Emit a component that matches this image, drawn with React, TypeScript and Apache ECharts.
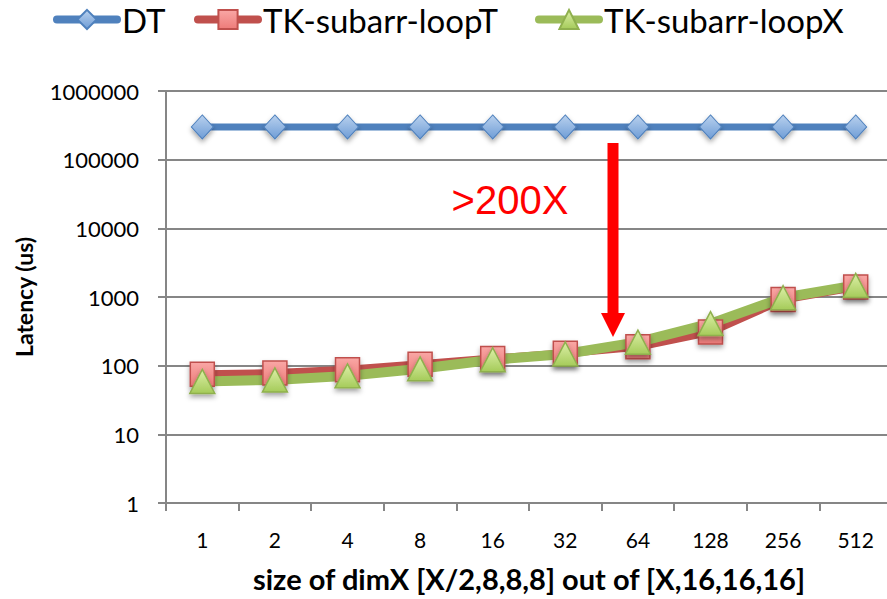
import React, { useEffect, useRef } from "react";
import * as echarts from "echarts";

const categories = ["1", "2", "4", "8", "16", "32", "64", "128", "256", "512"];
const dtValues = [300000, 300000, 300000, 300000, 300000, 300000, 300000, 300000, 300000, 300000];
const loopTValues = [75, 78, 87, 105, 127, 152, 188, 310, 920, 1400];
const loopXValues = [59, 62, 71, 90, 122, 148, 220, 410, 975, 1475];
const seriesNames = ["DT", "TK-subarr-loopT", "TK-subarr-loopX"];

const FONT = "Lato, 'Open Sans', sans-serif";

function grad(top: string, bottom: string) {
  return new echarts.graphic.LinearGradient(0, 0, 0, 1, [
    { offset: 0, color: top },
    { offset: 1, color: bottom },
  ]);
}

export default function App() {
  const ref = useRef<HTMLDivElement>(null);
  useEffect(() => {
    if (!ref.current) return;
    const chart = echarts.init(ref.current, undefined, { renderer: "svg" });
    const shadow = {
      shadowBlur: 5,
      shadowColor: "rgba(0,0,0,0.35)",
      shadowOffsetY: 3,
    };
    const legendLefts = [53, 194, 535];
    const legends = seriesNames.map((name, i) => ({
      left: legendLefts[i],
      top: 3,
      padding: 0,
      itemWidth: 60,
      itemHeight: 24,
      itemGap: 0,
      lineStyle: { width: 8, cap: "round" },
      textStyle: { fontFamily: FONT, fontSize: 33, color: "#000" },
      data: [name],
    }));
    chart.setOption({
      animation: false,
      backgroundColor: "#ffffff",
      legend: legends,
      grid: { left: 166, top: 91, width: 726, height: 412, outerBoundsMode: "none", containLabel: false },
      xAxis: {
        type: "category",
        data: categories,
        boundaryGap: true,
        axisLine: { lineStyle: { color: "#868686", width: 2 } },
        axisTick: { show: true, length: 8, lineStyle: { color: "#868686", width: 2 } },
        axisLabel: { color: "#000", fontFamily: FONT, fontSize: 21, margin: 26 },
        name: "size of dimX [X/2,8,8,8] out of [X,16,16,16]",
        nameLocation: "middle",
        nameGap: 61,
        nameTextStyle: { color: "#000", fontFamily: FONT, fontSize: 29, fontWeight: "bold" },
      },
      yAxis: {
        type: "log",
        logBase: 10,
        min: 1,
        max: 1000000,
        axisLine: { show: true, lineStyle: { color: "#868686", width: 2 } },
        axisTick: { show: true, length: 8, lineStyle: { color: "#868686", width: 2 } },
        splitLine: { show: true, lineStyle: { color: "#868686", width: 2 } },
        axisLabel: {
          color: "#000",
          fontFamily: FONT,
          fontSize: 22,
          margin: 27,
          formatter: (v: number) => String(Math.round(v)),
        },
        name: "Latency (us)",
        nameLocation: "middle",
        nameGap: 131,
        nameTextStyle: { color: "#000", fontFamily: FONT, fontSize: 23, fontWeight: "bold" },
      },
      series: [
        {
          name: seriesNames[0],
          type: "line",
          data: dtValues,
          symbol: "diamond",
          symbolSize: [22, 24],
          lineStyle: { color: "#4F81BD", width: 7 },
          itemStyle: {
            color: grad("#B9D1EE", "#6F9DD6"),
            borderColor: "#4F81BD",
            borderWidth: 1,
            ...shadow,
          },
        },
        {
          name: seriesNames[1],
          type: "line",
          data: loopTValues,
          symbol: "rect",
          symbolSize: 24,
          lineStyle: { color: "#C0504D", width: 8 },
          itemStyle: {
            color: grad("#F9A7A5", "#EE7B79"),
            borderColor: "#C0504D",
            borderWidth: 1.5,
            ...shadow,
          },
        },
        {
          name: seriesNames[2],
          type: "line",
          data: loopXValues,
          symbol: "triangle",
          symbolSize: [25, 24],
          lineStyle: { color: "#9BBB59", width: 10 },
          itemStyle: {
            color: grad("#DDF0A8", "#A5CB5A"),
            borderColor: "#8FB04E",
            borderWidth: 1.5,
            ...shadow,
          },
        },
      ],
      graphic: [
        {
          type: "line",
          shape: { x1: 613, y1: 143, x2: 613, y2: 316 },
          style: { stroke: "#FF0000", lineWidth: 11 },
          z: 100,
        },
        {
          type: "polygon",
          shape: { points: [[601, 313], [625, 313], [613, 337]] },
          style: { fill: "#FF0000" },
          z: 100,
        },
        {
          type: "text",
          x: 510,
          y: 200,
          style: {
            text: ">200X",
            fill: "#FF0000",
            font: "40px 'Liberation Sans', Arial, sans-serif",
            align: "center",
            verticalAlign: "middle",
          },
          z: 100,
        },
      ],
    });
    return () => chart.dispose();
  }, []);
  return (
    <div
      ref={ref}
      style={{ position: "fixed", left: 0, top: 0, width: 887, height: 599, background: "#fff" }}
    />
  );
}
